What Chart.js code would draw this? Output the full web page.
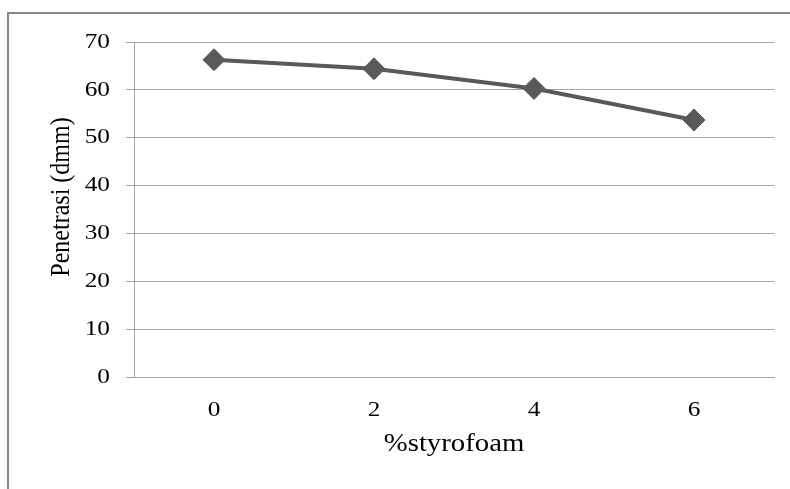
<!DOCTYPE html>
<html>
<head>
<meta charset="utf-8">
<script src="https://cdn.jsdelivr.net/npm/chart.js@4"></script>
<style>
  html, body { margin: 0; padding: 0; background: #fff; }
  #wrap { position: relative; width: 790px; height: 489px; overflow: hidden; }
  #frame { position: absolute; left: 7px; top: 12px; width: 900px; height: 600px;
           border-left: 2px solid #878787; border-top: 2px solid #878787; box-sizing: border-box; }
  canvas { position: absolute; left: 0; top: 0; }
</style>
</head>
<body>
<div id="wrap">
  <div id="frame"></div>
  <canvas id="c" width="790" height="489"></canvas>
</div>
<script>
// Penetration test results by styrofoam content
const categories = ['0', '2', '4', '6'];
const penetrasi = [66.3, 64.4, 60.3, 53.7];
const yTicks = [0, 10, 20, 30, 40, 50, 60, 70];
const xTitle = '%styrofoam';
const yTitle = 'Penetrasi (dmm)';

const serif = "'Liberation Serif', 'Times New Roman', serif";
const gridColor = '#a6a6a6';
const lineColor = '#595959';

// Text is drawn slightly wider than the font's natural width,
// stretched horizontally around each label's anchor point.
const TEXT_SX = 1.15;
const canvas = document.getElementById('c');
const ctx = canvas.getContext('2d');
const nativeFill = ctx.fillText;
ctx.fillText = function (text, x, y, maxWidth) {
  const m = this.getTransform();
  const px = m.a * x + m.c * y + m.e;
  this.save();
  this.setTransform(new DOMMatrix([TEXT_SX, 0, 0, 1, px * (1 - TEXT_SX), 0]).multiply(m));
  if (maxWidth === undefined) nativeFill.call(this, text, x, y);
  else nativeFill.call(this, text, x, y, maxWidth);
  this.restore();
};

// Vertical axis title, placed beside the value labels
const yTitlePlugin = {
  id: 'yTitle',
  afterDraw(chart) {
    const c = chart.ctx;
    c.save();
    c.translate(62, 197);
    c.rotate(-Math.PI / 2);
    c.font = '24px ' + serif;
    c.fillStyle = '#000';
    c.textAlign = 'center';
    c.textBaseline = 'middle';
    c.fillText(yTitle, 0, 0);
    c.restore();
  }
};

new Chart(ctx, {
  type: 'line',
  data: {
    labels: categories,
    datasets: [{
      data: penetrasi,
      borderColor: lineColor,
      backgroundColor: lineColor,
      borderWidth: 4,
      pointStyle: 'rectRot',
      pointRadius: 11,
      pointBorderWidth: 1,
      pointBackgroundColor: lineColor,
      pointBorderColor: lineColor,
      tension: 0,
      fill: false
    }]
  },
  plugins: [yTitlePlugin],
  options: {
    responsive: false,
    animation: false,
    devicePixelRatio: 1,
    layout: { padding: { left: 50, top: 42, right: 16, bottom: 30 } },
    plugins: { legend: { display: false }, tooltip: { enabled: false } },
    scales: {
      x: {
        type: 'category',
        offset: true,
        grid: { display: false, drawTicks: false },
        border: { display: true, color: gridColor, width: 1 },
        ticks: { color: '#000', padding: 20, font: { family: serif, size: 22 } },
        title: { display: true, text: xTitle, color: '#000', padding: 0,
                 font: { family: serif, size: 25 } },
        afterFit(scale) { scale.height = 82; }
      },
      y: {
        min: 0,
        max: 70,
        afterBuildTicks(scale) { scale.ticks = yTicks.map(v => ({ value: v })); },
        grid: { color: gridColor, lineWidth: 1, drawTicks: true, tickLength: 8, tickColor: gridColor },
        border: { display: true, color: gridColor, width: 1 },
        ticks: { color: '#000', padding: 16, font: { family: serif, size: 22 } },
        title: { display: false },
        afterFit(scale) { scale.width = 84; }
      }
    }
  }
});
</script>
</body>
</html>
